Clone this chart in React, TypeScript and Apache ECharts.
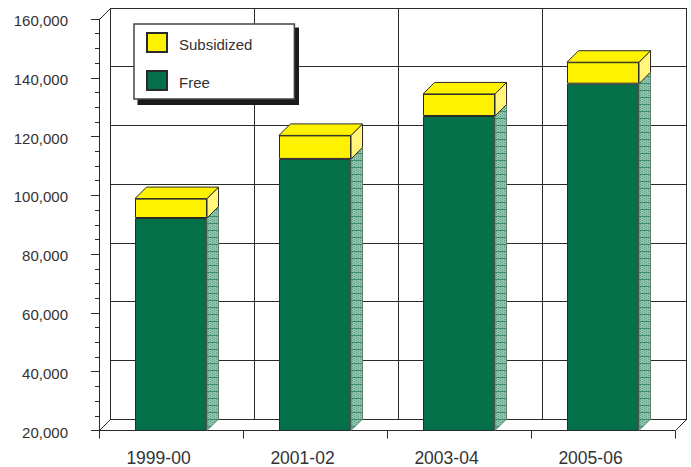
import React, { useEffect, useRef } from "react";
import * as echarts from "echarts";

const categories = ["1999-00", "2001-02", "2003-04", "2005-06"];
const freeMeals = [92300, 112400, 127000, 138000];
const subsidizedMeals = [6600, 8000, 7500, 7300];
const wallGridValues = [20000, 40000, 60000, 80000, 100000, 120000, 140000, 160000];

const GREEN = "#04704a";
const YELLOW = "#fff200";
const LINE = "#2a2a2a";
const FONT = '"Liberation Sans", Arial, sans-serif';
// Receding offset of the pseudo-3D chart box and bars, in pixels.
const DEPTH = 11.5;

// Small repeating tile used for the shaded right-hand faces of the bars.
function hatchTile(back: string, dot: string, rule: string | null, h: number) {
  const c = document.createElement("canvas");
  c.width = 4;
  c.height = h;
  const g = c.getContext("2d")!;
  g.fillStyle = back;
  g.fillRect(0, 0, 4, h);
  g.fillStyle = dot;
  for (let y = 0; y < h; y++) {
    g.fillRect(y % 2 === 0 ? 0 : 2, y, 1, 1);
  }
  if (rule) {
    g.fillStyle = rule;
    g.fillRect(0, h - 1, 4, 1);
  }
  return c;
}

const crisp = (v: number) => Math.round(v - 0.5) + 0.5;

export default function App() {
  const ref = useRef<HTMLDivElement>(null);

  useEffect(() => {
    document.body.style.margin = "0";
    const chart = echarts.init(ref.current!, undefined, { renderer: "svg" });
    const greenFace = {
      image: hatchTile("#93c2ad", "#5fa287", "#3a8c6c", 7),
      repeat: "repeat",
    };
    const yellowFace = {
      image: hatchTile("#fff79a", "#ffee55", null, 4),
      repeat: "repeat",
    };
    const wallStroke = { stroke: LINE, lineWidth: 1, fill: "none" };
    const faceStroke = { stroke: LINE, lineWidth: 1 };

    chart.setOption({
      animation: false,
      backgroundColor: "#fff",
      grid: { left: 99, top: 19, width: 576, height: 411.5, containLabel: false },
      legend: {
        left: 134,
        top: 24,
        orient: "vertical",
        data: ["Subsidized", "Free"],
        icon: "rect",
        itemWidth: 20,
        itemHeight: 19,
        itemGap: 17,
        padding: [8, 42, 8, 12],
        backgroundColor: "#fff",
        borderColor: "#444",
        borderWidth: 1.5,
        borderRadius: 0,
        formatter: (name: string) => `{t|${name}}`,
        textStyle: {
          fontFamily: FONT,
          fontSize: 15,
          color: "#333",
          padding: [0, 0, 0, 7],
          rich: {
            t: { fontFamily: FONT, fontSize: 15, color: "#333", padding: [4, 0, 0, 0] },
          },
        },
      },
      graphic: [
        // Hard drop shadow behind the legend box.
        { type: "rect", z: 3, shape: { x: 137.5, y: 27.5, width: 161.5, height: 77.5 }, style: { fill: "#1a1a1a" } },
      ],
      xAxis: {
        type: "category",
        data: categories,
        axisLine: { lineStyle: { color: LINE, width: 1 } },
        axisTick: { show: true, length: 8, alignWithLabel: false, lineStyle: { color: LINE } },
        axisLabel: {
          fontFamily: FONT,
          fontSize: 17.5,
          color: "#333",
          margin: 18,
          padding: [0, 25, 0, 0],
        },
        splitLine: { show: false },
      },
      yAxis: {
        type: "value",
        min: 20000,
        max: 160000,
        interval: 20000,
        axisLine: { show: true, lineStyle: { color: LINE, width: 1 } },
        axisTick: { show: true, length: 8, lineStyle: { color: LINE } },
        minorTick: { show: true, splitNumber: 4, length: 4, lineStyle: { color: LINE } },
        minorSplitLine: { show: false },
        splitLine: { show: false },
        axisLabel: {
          margin: 31,
          formatter: (v: number) => `{n|${v.toLocaleString("en-US")}}`,
          rich: {
            n: { fontFamily: FONT, fontSize: 15, color: "#333", padding: [3, 0, 0, 0] },
          },
        },
      },
      series: [
        // Back wall, floor and left wall of the chart box.
        {
          type: "custom",
          name: "walls",
          z: 1,
          silent: true,
          legendHoverLink: false,
          data: wallGridValues.map((v) => [0, v]),
          encode: { x: 0, y: 1 },
          renderItem: (params: any, api: any) => {
            const sys = params.coordSys;
            const y = crisp(api.coord([0, api.value(1)])[1]);
            const x0 = crisp(sys.x);
            const x1 = crisp(sys.x + sys.width);
            const children: any[] = [
              {
                type: "line",
                shape: { x1: x0 + DEPTH, y1: crisp(y - DEPTH), x2: x1 + DEPTH, y2: crisp(y - DEPTH) },
                style: wallStroke,
              },
            ];
            if (params.dataIndex === 0) {
              const bottom = y;
              const top = crisp(sys.y);
              const band = sys.width / categories.length;
              // Back-wall verticals, including both outer edges.
              for (let i = 0; i <= categories.length; i++) {
                const bx = crisp(sys.x + i * band + DEPTH);
                children.push({
                  type: "line",
                  shape: { x1: bx, y1: crisp(top - DEPTH), x2: bx, y2: crisp(bottom - DEPTH) },
                  style: wallStroke,
                });
              }
              // Floor and wall corner edges.
              children.push(
                { type: "line", shape: { x1: x0, y1: bottom, x2: x0 + DEPTH, y2: bottom - DEPTH }, style: wallStroke },
                { type: "line", shape: { x1: x1, y1: bottom, x2: x1 + DEPTH, y2: bottom - DEPTH }, style: wallStroke },
                { type: "line", shape: { x1: x0, y1: top, x2: x0 + DEPTH, y2: top - DEPTH }, style: wallStroke }
              );
            }
            return { type: "group", children };
          },
        },
        {
          type: "bar",
          name: "Free",
          stack: "meals",
          z: 2,
          barWidth: 72,
          data: freeMeals,
          itemStyle: { color: GREEN, borderColor: LINE, borderWidth: 1 },
        },
        {
          type: "bar",
          name: "Subsidized",
          stack: "meals",
          z: 2,
          barWidth: 72,
          data: subsidizedMeals,
          itemStyle: { color: YELLOW, borderColor: LINE, borderWidth: 1 },
        },
        // Top and right-hand faces that give the stacked bars their depth.
        {
          type: "custom",
          name: "faces",
          z: 3,
          silent: true,
          data: categories.map((_, i) => [i, 20000, freeMeals[i], freeMeals[i] + subsidizedMeals[i]]),
          encode: { x: 0, y: [1, 2, 3] },
          renderItem: (_params: any, api: any) => {
            const i = api.value(0);
            const base = api.coord([i, api.value(1)]);
            const free = api.coord([i, api.value(2)])[1];
            const total = api.coord([i, api.value(3)])[1];
            const half = api.size([1, 0])[0] / 4;
            const l = base[0] - half;
            const r = base[0] + half;
            const b = base[1];
            return {
              type: "group",
              children: [
                {
                  type: "polygon",
                  shape: { points: [[r, free], [r + DEPTH, free - DEPTH], [r + DEPTH, b - DEPTH], [r, b]] },
                  style: { fill: greenFace, stroke: "#5d7d6f", lineWidth: 1 },
                },
                {
                  type: "polygon",
                  shape: { points: [[r, total], [r + DEPTH, total - DEPTH], [r + DEPTH, free - DEPTH], [r, free]] },
                  style: { fill: yellowFace, ...faceStroke },
                },
                {
                  type: "polygon",
                  shape: { points: [[l, total], [l + DEPTH, total - DEPTH], [r + DEPTH, total - DEPTH], [r, total]] },
                  style: { fill: YELLOW, ...faceStroke },
                },
              ],
            };
          },
        },
      ],
    });
    return () => chart.dispose();
  }, []);

  return <div ref={ref} style={{ position: "absolute", left: 0, top: 0, width: 691, height: 467 }} />;
}
